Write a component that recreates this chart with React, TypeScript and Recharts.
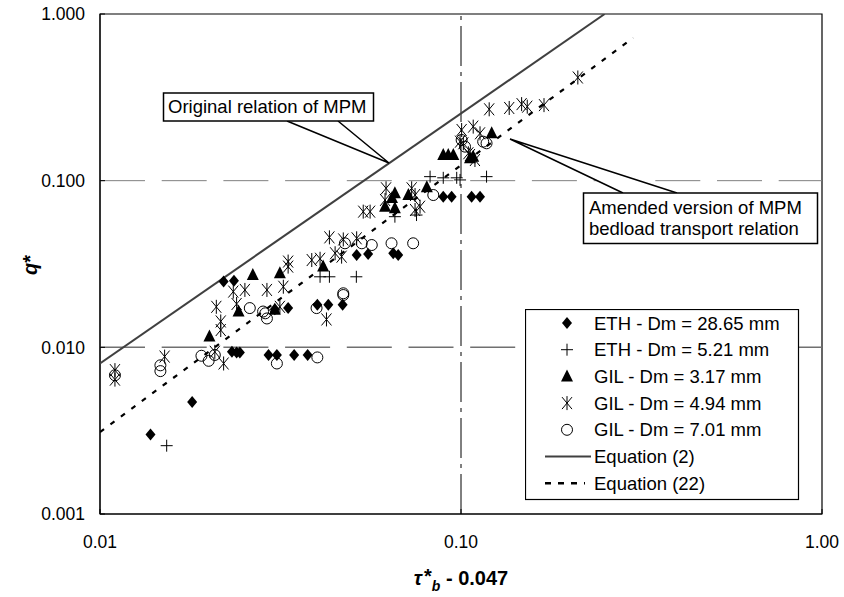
import React from 'react'
import {
  ScatterChart,
  Scatter,
  XAxis,
  YAxis,
  ReferenceLine,
  ReferenceArea,
  Legend
} from 'recharts'

const FONT = '"Liberation Sans", Arial, sans-serif'

// tau*_b - 0.047 , q*
const ethCoarse: [number, number][] = [
  [0.0138, 0.0030], [0.0180, 0.0047], [0.0220, 0.0248], [0.0235, 0.0251],
  [0.0232, 0.0094], [0.0239, 0.0093], [0.0244, 0.0093], [0.0293, 0.0090],
  [0.0309, 0.0090], [0.0345, 0.0090], [0.0376, 0.0090], [0.0305, 0.0169],
  [0.0332, 0.0172], [0.0400, 0.0180], [0.0429, 0.0180], [0.0470, 0.0180],
  [0.0514, 0.0358], [0.0553, 0.0363], [0.0649, 0.0367], [0.0670, 0.0358],
  [0.0893, 0.0802], [0.0942, 0.0802], [0.1070, 0.0802], [0.1129, 0.0802]
]

const ethFine: [number, number][] = [
  [0.0153, 0.00257], [0.0407, 0.0265], [0.0432, 0.0265], [0.0513, 0.0265],
  [0.0656, 0.0608], [0.0753, 0.0622], [0.0821, 0.1057], [0.0893, 0.1040],
  [0.0973, 0.1040], [0.0994, 0.1010], [0.1177, 0.1057]
]

const gil317: [number, number][] = [
  [0.0201, 0.0116], [0.0242, 0.0164], [0.0265, 0.0272], [0.0305, 0.0168],
  [0.0315, 0.0278], [0.0415, 0.0305], [0.0616, 0.0698], [0.0656, 0.0840],
  [0.0656, 0.0683], [0.0644, 0.0787], [0.0715, 0.0820], [0.0804, 0.0913],
  [0.0893, 0.1426], [0.0922, 0.1426], [0.0952, 0.1426], [0.1059, 0.1363],
  [0.1081, 0.1393], [0.1216, 0.1924]
]

const gil494: [number, number][] = [
  [0.0110, 0.0073], [0.0110, 0.0064], [0.0151, 0.0088], [0.0208, 0.0094],
  [0.0220, 0.0080], [0.0210, 0.0175], [0.0216, 0.0143], [0.0216, 0.0127],
  [0.0234, 0.0216], [0.0239, 0.0182], [0.0252, 0.0221], [0.0290, 0.0221],
  [0.0322, 0.0231], [0.0315, 0.0175], [0.0332, 0.0327], [0.0332, 0.0305],
  [0.0386, 0.0334], [0.0407, 0.0340], [0.0424, 0.0147], [0.0432, 0.0457],
  [0.0448, 0.0367], [0.0467, 0.0350], [0.0472, 0.0444], [0.0514, 0.0451],
  [0.0536, 0.0652], [0.0560, 0.0652], [0.0616, 0.0766], [0.0620, 0.0900],
  [0.0730, 0.0900], [0.0746, 0.0820], [0.0746, 0.0667], [0.0770, 0.0698],
  [0.0994, 0.1714], [0.1004, 0.2014], [0.1015, 0.1676], [0.1048, 0.1460],
  [0.1081, 0.2110], [0.1129, 0.1924], [0.1059, 0.1426], [0.1093, 0.1330],
  [0.1197, 0.268], [0.1360, 0.273], [0.1472, 0.288], [0.1526, 0.278],
  [0.1698, 0.284], [0.2107, 0.416]
]

const gil701: [number, number][] = [
  [0.0110, 0.0068], [0.0147, 0.0078], [0.0147, 0.0072], [0.0191, 0.0089],
  [0.0200, 0.0083], [0.0208, 0.0090], [0.0260, 0.0172], [0.0283, 0.0164],
  [0.0287, 0.0160], [0.0290, 0.0149], [0.0309, 0.0080], [0.0400, 0.0087],
  [0.0398, 0.0172], [0.0472, 0.0211], [0.0472, 0.0206], [0.0477, 0.0421],
  [0.0531, 0.0421], [0.0566, 0.0411], [0.0642, 0.0421], [0.0737, 0.0421],
  [0.0838, 0.0820], [0.1004, 0.1754], [0.1026, 0.1600], [0.1152, 0.1714],
  [0.1177, 0.1676]
]

// end points of the two relations (straight lines on log-log axes)
const eq2: [number, number][] = [[0.01, 0.008], [0.25, 1.0]]
const eq22: [number, number][] = [[0.01, 0.0031], [0.30, 0.72]]

const xTicks = [0.01, 0.1, 1]
const yTicks = [0.001, 0.01, 0.1, 1]

const legendLabels = [
  'ETH - Dm = 28.65 mm',
  'ETH - Dm = 5.21 mm',
  'GIL - Dm = 3.17 mm',
  'GIL - Dm = 4.94 mm',
  'GIL - Dm = 7.01 mm',
  'Equation (2)',
  'Equation (22)'
]

const pts = (a: [number, number][]) => a.map(([x, y]) => ({ x, y }))

const Diamond = ({ cx, cy }: any) => (
  <polygon points={`${cx},${cy - 6} ${cx + 5},${cy} ${cx},${cy + 6} ${cx - 5},${cy}`} fill="#000" />
)
const Plus = ({ cx, cy }: any) => (
  <path d={`M${cx - 6},${cy}H${cx + 6}M${cx},${cy - 6}V${cy + 6}`} stroke="#000" strokeWidth={1} fill="none" />
)
const Tri = ({ cx, cy }: any) => (
  <polygon points={`${cx},${cy - 7} ${cx + 6},${cy + 5} ${cx - 6},${cy + 5}`} fill="#000" />
)
const Star = ({ cx, cy }: any) => (
  <path
    d={`M${cx - 5},${cy - 6}L${cx + 5},${cy + 6}M${cx + 5},${cy - 6}L${cx - 5},${cy + 6}M${cx},${cy - 7}V${cy + 7}`}
    stroke="#000"
    strokeWidth={1}
    fill="none"
  />
)
const Ring = ({ cx, cy }: any) => (
  <circle cx={cx} cy={cy} r={5.5} stroke="#000" strokeWidth={1} fill="none" />
)
const Nothing = () => <g />

const markers = [Diamond, Plus, Tri, Star, Ring]

const renderLegend = () => (
  <svg width={275} height={192} style={{ display: 'block' }}>
    <rect x={0.5} y={0.5} width={273} height={190} fill="#fff" stroke="#000" strokeWidth={1.2} />
    {legendLabels.map((label, i) => {
      const cy = 14 + i * 26.7
      const M = markers[i]
      return (
        <g key={label}>
          {M && <M cx={42} cy={cy} />}
          {i === 5 && <line x1={20} x2={66} y1={cy} y2={cy} stroke="#404040" strokeWidth={2} />}
          {i === 6 && <line x1={20} x2={60} y1={cy} y2={cy} stroke="#000" strokeWidth={2.5} strokeDasharray="6 7" />}
          <text x={69} y={cy + 6.5} fontSize={18.5} fontFamily={FONT} fill="#000">
            {label}
          </text>
        </g>
      )
    })}
  </svg>
)

export default function App() {
  return (
    <div style={{ position: 'absolute', left: 0, top: 0, width: 844, height: 597, background: '#fff' }}>
      <ScatterChart width={844} height={597} margin={{ top: 14, right: 22, bottom: 43, left: 30 }}>
        <XAxis
          type="number"
          dataKey="x"
          scale="log"
          domain={[0.01, 1]}
          allowDataOverflow
          ticks={xTicks}
          tickFormatter={(v: number) => v.toFixed(2)}
          tick={{ fill: '#000', fontSize: 17.5, fontFamily: FONT }}
          tickSize={-5}
          tickMargin={27}
          tickLine={{ stroke: '#000' }}
          axisLine={{ stroke: '#000' }}
          height={40}
        />
        <YAxis
          type="number"
          dataKey="y"
          scale="log"
          domain={[0.001, 1]}
          allowDataOverflow
          ticks={yTicks}
          tickFormatter={(v: number) => v.toFixed(3)}
          tick={{ fill: '#000', fontSize: 17.5, fontFamily: FONT }}
          tickSize={-5}
          tickMargin={20}
          tickLine={{ stroke: '#000' }}
          axisLine={{ stroke: '#000' }}
          width={70}
        />
        <ReferenceLine y={0.1} stroke="#808080" strokeWidth={1} strokeDasharray="45 16.7" />
        <ReferenceLine y={0.01} stroke="#707070" strokeWidth={1.5} strokeDasharray="45 16.7" />
        <ReferenceLine x={0.1} stroke="#000" strokeWidth={1} strokeDasharray="40 6 4 6" />
        <ReferenceArea x1={0.01} x2={1} y1={0.001} y2={1} fill="none" stroke="#000" strokeWidth={1.2} />

        <Scatter name="Equation (2)" data={pts(eq2)} line={{ stroke: '#404040', strokeWidth: 2 }} lineType="joint" shape={Nothing} isAnimationActive={false} />
        <Scatter name="Equation (22)" data={pts(eq22)} line={{ stroke: '#000', strokeWidth: 2.2, strokeDasharray: '5 8' }} lineType="joint" shape={Nothing} isAnimationActive={false} />

        <Scatter name={legendLabels[4]} data={pts(gil701)} shape={Ring} isAnimationActive={false} />
        <Scatter name={legendLabels[3]} data={pts(gil494)} shape={Star} isAnimationActive={false} />
        <Scatter name={legendLabels[1]} data={pts(ethFine)} shape={Plus} isAnimationActive={false} />
        <Scatter name={legendLabels[2]} data={pts(gil317)} shape={Tri} isAnimationActive={false} />
        <Scatter name={legendLabels[0]} data={pts(ethCoarse)} shape={Diamond} isAnimationActive={false} />

        <Legend
          layout="vertical"
          align="center"
          verticalAlign="middle"
          content={renderLegend}
          wrapperStyle={{ left: 525, top: 309, width: 275, height: 192 }}
        />
      </ScatterChart>

      <svg
        width={844}
        height={597}
        style={{ position: 'absolute', left: 0, top: 0, pointerEvents: 'none' }}
        fontFamily={FONT}
      >
        {/* callout: original relation */}
        <path d="M287,121 L389,163 L338,121" fill="#fff" stroke="#000" strokeWidth={1.5} />
        <rect x={163.5} y={93} width={210} height={28} fill="#fff" stroke="#000" strokeWidth={1.5} />
        <text x={168} y={113} fontSize={18.5} fill="#000">Original relation of MPM</text>

        {/* callout: amended relation */}
        <path d="M623,193 L510,139 L677,193" fill="#fff" stroke="#000" strokeWidth={1.5} />
        <rect x={583.5} y={193} width={234} height={50.5} fill="#fff" stroke="#000" strokeWidth={1.5} />
        <text x={589} y={214} fontSize={18.5} fill="#000">Amended version of MPM</text>
        <text x={589} y={235} fontSize={18.5} fill="#000">bedload transport relation</text>

        {/* axis titles */}
        <text x={461} y={585} textAnchor="middle" fontSize={20} fontWeight="bold" fill="#000">
          <tspan fontStyle="italic">τ</tspan>
          <tspan dx={2} dy={-2}>*</tspan>
          <tspan fontStyle="italic" fontSize={14} dy={8}>b</tspan>
          <tspan dy={-6}> - 0.047</tspan>
        </text>
        <text
          x={37}
          y={265}
          transform="rotate(-90 37 265)"
          textAnchor="middle"
          fontSize={20}
          fontWeight="bold"
          fill="#000"
        >
          <tspan fontStyle="italic">q</tspan>
          <tspan>*</tspan>
        </text>
      </svg>
    </div>
  )
}
